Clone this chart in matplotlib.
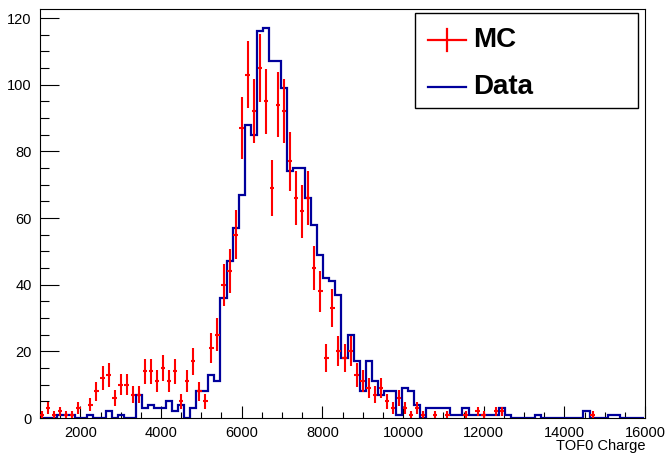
import numpy as np
import matplotlib.pyplot as plt
from matplotlib.lines import Line2D
from matplotlib.patches import Rectangle

plt.rcParams['font.family'] = ['Liberation Sans', 'DejaVu Sans']

# binning: 100 bins of width 150
bin_lo = 975
bin_w = 150

# MC histogram (drawn with error bars)
mc = [1, 3, 1, 2, 1, 1, 3, 0, 4, 8,
      12, 13, 6, 10, 10, 7, 7, 14, 14, 11,
      15, 11, 14, 5, 11, 17, 8, 5, 21, 25,
      40, 44, 55, 87, 103, 92, 105, 95, 69, 94,
      92, 77, 66, 62, 66, 45, 38, 18, 33, 20,
      18, 20, 13, 11, 9, 7, 9, 5, 3, 6,
      3, 1, 3, 1, 0, 1, 0, 1, 0, 0,
      1, 0, 2, 1, 0, 2, 2, 0, 0, 0,
      0, 0, 0, 0, 0, 0, 0, 0, 0, 0,
      0, 1, 0, 0, 0, 0, 0, 0, 0, 0]

# Data histogram (drawn as outline)
data = [0, 0, 0, 1, 1, 1, 0, 0, 1, 0,
        0, 2, 0, 1, 0, 0, 7, 3, 4, 3,
        3, 5, 2, 4, 0, 3, 8, 8, 13, 11,
        36, 47, 57, 67, 88, 85, 116, 117, 107, 107,
        99, 74, 75, 75, 66, 58, 49, 42, 41, 37,
        18, 25, 17, 8, 17, 11, 7, 8, 8, 1,
        9, 8, 4, 0, 3, 3, 3, 3, 1, 1,
        3, 1, 1, 1, 1, 1, 3, 1, 0, 0,
        0, 0, 1, 0, 0, 0, 0, 0, 0, 0,
        2, 0, 0, 0, 1, 1, 0, 0, 0, 0]

legend_labels = ['MC', 'Data']
x_title = 'TOF0 Charge'

mc = np.array(mc, dtype=float)
data = np.array(data, dtype=float)
edges = bin_lo + bin_w * np.arange(len(data) + 1)
centers = 0.5 * (edges[:-1] + edges[1:])

red = '#ff0000'
blue = '#00009c'

W, H = 668, 454
fig = plt.figure(figsize=(W / 100, H / 100), dpi=100)
# frame: x 40..645 px, y 8.5..418 px
ax = fig.add_axes([40 / W, (H - 418) / H, 605 / W, (418 - 8.5) / H])

ax.stairs(data, edges, color=blue, lw=1.6, baseline=0, zorder=2)

m = mc > 0
ax.errorbar(centers[m], mc[m], yerr=np.sqrt(mc[m]), xerr=55, fmt='none',
            ecolor=red, elinewidth=1.5, capsize=0, zorder=3, clip_on=True)

ax.set_xlim(1000, 16000)
ax.set_ylim(0, 122.85)
ax.set_xticks(np.arange(2000, 16001, 2000))
ax.set_xticks(np.arange(1000, 16001, 500), minor=True)
ax.set_yticks(np.arange(0, 121, 20))
ax.set_yticks(np.arange(0, 121, 5), minor=True)
ax.tick_params(axis='both', which='both', direction='in', top=False, right=False,
               width=0.8, labelsize=10.5, pad=6)
ax.tick_params(axis='x', which='major', length=9)
ax.tick_params(axis='x', which='minor', length=4.5)
ax.tick_params(axis='y', which='major', length=13.5)
ax.tick_params(axis='y', which='minor', length=6.5)
for s in ax.spines.values():
    s.set_linewidth(0.8)

fig.text(645 / W, 1 - 446 / H, x_title, ha='right', va='center', fontsize=10.5)

# legend box drawn by hand (ROOT style)
fig.add_artist(Rectangle((415 / W, 1 - 108 / H), 223 / W, 95 / H,
                         transform=fig.transFigure, facecolor='white',
                         edgecolor='black', lw=1.0, zorder=5))
ys = [40, 87]
cols = [red, blue]
for y, c, lab in zip(ys, cols, legend_labels):
    yf = 1 - y / H
    fig.add_artist(Line2D([428 / W, 466 / W], [yf, yf], color=c, lw=1.6,
                          transform=fig.transFigure, zorder=6))
    fig.text(473 / W, yf, lab, ha='left', va='center', fontsize=20,
             fontweight='bold', zorder=6)
fig.add_artist(Line2D([447 / W, 447 / W], [1 - 29 / H, 1 - 51 / H], color=red,
                      lw=1.6, transform=fig.transFigure, zorder=6))

fig.savefig('out.png', dpi=100)
